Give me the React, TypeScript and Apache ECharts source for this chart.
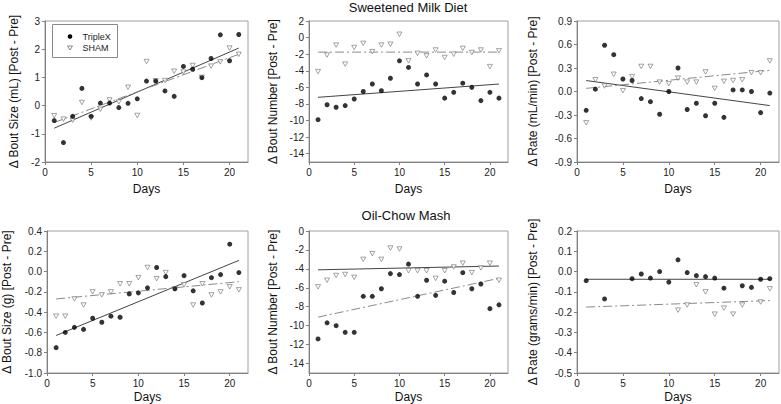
import React, { useEffect, useRef } from "react";
import * as echarts from "echarts";

const days = [1, 2, 3, 4, 5, 6, 7, 8, 9, 10, 11, 12, 13, 14, 15, 16, 17, 18, 19, 20, 21];

// Panel 1: Sweetened milk, bout size (mL)
const p1Triple = [-0.53, -1.31, -0.38, 0.61, -0.38, 0.09, 0.09, -0.07, 0.08, 0.24, 0.87, 0.87, 0.52, 0.33, 1.39, 1.29, 0.99, 1.67, 2.51, 1.59, 2.52];
const p1Sham = [-0.36, -0.48, -0.52, 0.11, -0.44, -0.13, 0.2, 0.13, 0.65, -0.35, 1.56, 0.88, 0.89, 1.22, 1.19, 1.42, 1.0, 1.4, 1.55, 2.04, 1.82];
const p1TripleFit = [-0.8, 2.04];
const p1ShamFit = [-0.6, 1.82];

// Panel 2: Sweetened milk, bout number
const p2Triple = [-9.9, -8.1, -8.4, -8.2, -7.4, -6.5, -5.6, -6.4, -4.9, -2.8, -3.6, -5.6, -4.5, -5.6, -7.3, -6.6, -5.5, -6.0, -7.6, -6.6, -7.3];
const p2Sham = [-4.1, -2.1, -0.9, -3.2, -1.2, -0.7, -1.7, -0.9, -0.8, 0.4, -2.8, -1.9, -2.2, -1.5, -2.4, -2.0, -1.3, -1.8, -1.5, -3.5, -1.6];
const p2TripleFit = [-7.2, -5.6];
const p2ShamFit = [-1.75, -1.75];

// Panel 3: Sweetened milk, rate (mL/min)
const p3Triple = [-0.24, 0.03, 0.59, 0.47, 0.16, 0.14, -0.09, -0.13, -0.29, 0.0, 0.3, -0.23, -0.15, -0.31, -0.15, -0.33, 0.02, 0.02, 0.0, -0.27, -0.02];
const p3Sham = [-0.4, 0.15, 0.07, 0.22, 0.01, 0.19, 0.32, 0.32, 0.12, 0.1, 0.17, 0.12, 0.12, 0.25, 0.04, 0.13, 0.14, 0.15, 0.24, 0.24, 0.39];
const p3TripleFit = [0.14, -0.18];
const p3ShamFit = [0.04, 0.27];

// Panel 4: Oil-chow mash, bout size (g)
const p4Triple = [-0.75, -0.6, -0.55, -0.57, -0.46, -0.5, -0.44, -0.45, -0.22, -0.21, -0.16, 0.04, -0.05, -0.17, -0.04, -0.19, -0.31, -0.06, -0.03, 0.27, -0.01];
const p4Sham = [-0.44, -0.44, -0.27, -0.33, -0.2, -0.23, -0.2, -0.12, -0.12, -0.06, 0.04, -0.07, -0.01, -0.17, -0.13, -0.33, -0.12, -0.23, -0.2, -0.15, -0.18];
const p4TripleFit = [-0.63, 0.11];
const p4ShamFit = [-0.27, -0.1];

// Panel 5: Oil-chow mash, bout number
const p5Triple = [-11.4, -9.7, -10.0, -10.7, -10.7, -6.9, -6.9, -6.1, -4.5, -4.6, -3.5, -6.9, -5.2, -6.8, -5.3, -6.5, -4.4, -6.1, -5.6, -8.2, -7.8];
const p5Sham = [-5.9, -5.2, -4.7, -4.6, -4.9, -3.0, -2.4, -3.0, -1.8, -1.9, -4.2, -4.2, -4.2, -5.0, -4.2, -3.8, -3.4, -4.4, -3.9, -3.4, -5.2];
const p5UpperFit = [-4.1, -3.7];
const p5LowerFit = [-9.1, -5.0];

// Panel 6: Oil-chow mash, rate (grams/min)
const p6Triple = [-0.045, null, -0.135, null, null, -0.035, -0.012, -0.032, 0.0, -0.052, 0.058, -0.005, -0.02, -0.025, -0.032, -0.082, null, -0.07, -0.078, -0.038, -0.035];
const p6Sham = [null, null, null, null, null, null, null, null, null, null, -0.19, -0.165, -0.065, -0.1, -0.21, -0.18, -0.21, -0.165, null, -0.15, -0.085];
const p6TripleFit = [-0.038, -0.038];
const p6ShamFit = [-0.175, -0.143];

const xTicks = [0, 5, 10, 15, 20];
const countTicks = [2, 0, -2, -4, -6, -8, -10, -12, -14];
const count2Ticks = [0, -2, -4, -6, -8, -10, -12, -14];
const legendNames = ["TripleX", "SHAM"];

const FONT = "Liberation Sans, Arial, sans-serif";

const pairs = (vals: (number | null)[]) =>
  days.map((d, i) => [d, vals[i]]).filter((p) => p[1] !== null);

export default function App() {
  const ref = useRef<HTMLDivElement>(null);
  useEffect(() => {
    if (!ref.current) return;
    const chart = echarts.init(ref.current, null, { renderer: "svg" });

    const grids = [
      { left: 45, top: 21, width: 203, height: 141 },
      { left: 309, top: 21, width: 199, height: 141 },
      { left: 577, top: 21, width: 202, height: 141 },
      { left: 45, top: 231, width: 203, height: 142 },
      { left: 309, top: 231, width: 199, height: 142 },
      { left: 577, top: 231, width: 202, height: 142 },
    ].map((g) => ({ ...g, show: true, borderColor: "#a0a0a0", borderWidth: 1, backgroundColor: "transparent" }));

    const axisBase = {
      axisLine: { show: true, onZero: false, lineStyle: { color: "#808080", width: 1 } },
      axisTick: { show: true, inside: false, length: 3, lineStyle: { color: "#808080" } },
      splitLine: { show: false },
      axisLabel: { color: "#222", fontSize: 10, fontFamily: FONT, margin: 5 },
      nameTextStyle: { color: "#111", fontSize: 12, fontFamily: FONT },
    };

    const xAxes = [0, 1, 2, 3, 4, 5].map((i) => ({
      ...axisBase,
      type: "value",
      gridIndex: i,
      min: 0,
      max: 22,
      name: "Days",
      nameLocation: "middle",
      nameGap: i < 3 ? 21 : 18,
      axisLabel: { ...axisBase.axisLabel, customValues: xTicks },
      axisTick: { ...axisBase.axisTick, customValues: xTicks },
    }));

    const fmt1 = (v: number) => (Math.abs(v) < 1e-9 ? "0.0" : v.toFixed(1));
    const yDefs: any[] = [
      { name: "Δ Bout Size (mL) [Post - Pre]", min: -2, max: 3, interval: 1, gap: 25 },
      { name: "Δ Bout Number [Post - Pre]", min: -15, max: 2, custom: countTicks, gap: 30 },
      { name: "Δ Rate (mL/min) [Post - Pre]", min: -0.9, max: 0.9, interval: 0.3, gap: 38, f: fmt1 },
      { name: "Δ Bout Size (g) [Post - Pre]", min: -1.0, max: 0.4, interval: 0.2, gap: 34, f: fmt1 },
      { name: "Δ Bout Number [Post - Pre]", min: -15, max: 0, custom: count2Ticks, gap: 30 },
      { name: "Δ Rate (grams/min) [Post - Pre]", min: -0.5, max: 0.2, interval: 0.1, gap: 38, f: fmt1 },
    ];
    const yAxes = yDefs.map((d, i) => {
      const ax: any = {
        ...axisBase,
        type: "value",
        gridIndex: i,
        min: d.min,
        max: d.max,
        name: d.name,
        nameLocation: "middle",
        nameGap: d.gap,
        axisLabel: { ...axisBase.axisLabel },
        axisTick: { ...axisBase.axisTick },
      };
      if (d.interval) ax.interval = d.interval;
      if (d.custom) {
        ax.axisLabel.customValues = d.custom;
        ax.axisTick.customValues = d.custom;
      }
      if (d.f) ax.axisLabel.formatter = d.f;
      return ax;
    });

    const panels = [
      { t: p1Triple, s: p1Sham, fits: [[p1TripleFit, "solid"], [p1ShamFit, "dash"]] },
      { t: p2Triple, s: p2Sham, fits: [[p2TripleFit, "solid"], [p2ShamFit, "dash"]] },
      { t: p3Triple, s: p3Sham, fits: [[p3TripleFit, "solid"], [p3ShamFit, "dash"]] },
      { t: p4Triple, s: p4Sham, fits: [[p4TripleFit, "solid"], [p4ShamFit, "dash"]] },
      { t: p5Triple, s: p5Sham, fits: [[p5UpperFit, "solid"], [p5LowerFit, "dash"]] },
      { t: p6Triple, s: p6Sham, fits: [[p6TripleFit, "solid"], [p6ShamFit, "dash"]] },
    ];

    const series: any[] = [];
    panels.forEach((p, i) => {
      p.fits.forEach(([fit, kind]: any) => {
        series.push({
          type: "line",
          xAxisIndex: i,
          yAxisIndex: i,
          data: [[days[0], fit[0]], [days[days.length - 1], fit[1]]],
          symbol: "none",
          silent: true,
          lineStyle:
            kind === "solid"
              ? { color: "#444", width: 1, type: "solid" }
              : { color: "#8a8a8a", width: 1, type: [9, 3, 2, 3] },
          z: 1,
        });
      });
      series.push({
        type: "scatter",
        name: "SHAM",
        xAxisIndex: i,
        yAxisIndex: i,
        data: pairs(p.s),
        symbol: "triangle",
        symbolRotate: 180,
        symbolSize: [5, 4.5],
        itemStyle: { color: "#ffffff", borderColor: "#707070", borderWidth: 0.8 },
        z: 3,
      });
      series.push({
        type: "scatter",
        name: "TripleX",
        xAxisIndex: i,
        yAxisIndex: i,
        data: pairs(p.t),
        symbol: "circle",
        symbolSize: 5,
        itemStyle: { color: "#000" },
        z: 4,
      });
    });

    chart.setOption({
      animation: false,
      textStyle: { fontFamily: FONT },
      grid: grids,
      xAxis: xAxes,
      yAxis: yAxes,
      graphic: [
        {
          type: "text",
          x: 408,
          y: 7,
          style: { text: "Sweetened Milk Diet", fontSize: 13, fontFamily: FONT, fill: "#111", textAlign: "center", textVerticalAlign: "middle" },
        },
        {
          type: "text",
          x: 406,
          y: 215,
          style: { text: "Oil-Chow Mash", fontSize: 13, fontFamily: FONT, fill: "#111", textAlign: "center", textVerticalAlign: "middle" },
        },
        {
          type: "group",
          x: 52.5,
          y: 24.5,
          children: [
            { type: "rect", shape: { x: 0, y: 0, width: 65, height: 33 }, style: { fill: "#fff", stroke: "#888", lineWidth: 1 } },
            { type: "circle", shape: { cx: 17.5, cy: 12, r: 2.3 }, style: { fill: "#000" } },
            { type: "polygon", shape: { points: [[15, 21.5], [20, 21.5], [17.5, 25.5]] }, style: { fill: "#fff", stroke: "#707070", lineWidth: 0.8 } },
            { type: "text", x: 30, y: 12, style: { text: legendNames[0], fontSize: 9, fontFamily: FONT, fill: "#222", textVerticalAlign: "middle" } },
            { type: "text", x: 30, y: 23.5, style: { text: legendNames[1], fontSize: 9, fontFamily: FONT, fill: "#222", textVerticalAlign: "middle" } },
          ],
        },
      ],
      series,
    });
    return () => chart.dispose();
  }, []);
  return <div ref={ref} style={{ width: 781, height: 404, position: "absolute", left: 0, top: 0 }} />;
}
